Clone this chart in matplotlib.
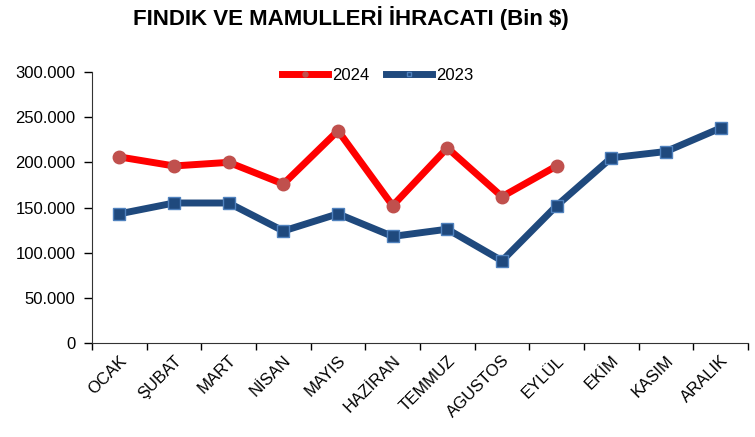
import numpy as np
import matplotlib
matplotlib.use("Agg")
import matplotlib.pyplot as plt
from matplotlib.ticker import FuncFormatter

plt.rcParams['font.family'] = ['Liberation Sans Narrow', 'Liberation Sans', 'DejaVu Sans']

aylar = ["OCAK", "ŞUBAT", "MART", "NİSAN", "MAYIS", "HAZİRAN", "TEMMUZ",
         "AGUSTOS", "EYLÜL", "EKİM", "KASIM", "ARALIK"]
ihracat_2024 = [206000, 196000, 200000, 176000, 235000, 152000, 216000, 162000, 196000]
ihracat_2023 = [143000, 155000, 155000, 124000, 143000, 118000, 126000, 91000, 152000,
                205000, 212000, 238000]

fig = plt.figure(figsize=(7.55, 4.37), dpi=100)
ax = fig.add_axes([0.1219, 0.2151, 0.8688, 0.6201])

x = np.arange(len(aylar))
ax.plot(x[:len(ihracat_2024)], ihracat_2024, color="#FF0000", lw=5, marker="o",
        ms=9, mfc="#C0504D", mec="#C0504D", label="2024", zorder=3)
ax.plot(x, ihracat_2023, color="#1F497D", lw=5, marker="s", ms=8,
        mfc="#1F497D", mec="#4F81BD", mew=1, label="2023", zorder=2)

ax.set_xlim(-0.5, len(aylar) - 0.5)
ax.set_ylim(0, 300000)
ax.set_yticks(np.arange(0, 300001, 50000))
ax.yaxis.set_major_formatter(FuncFormatter(lambda v, p: f"{int(v):,}".replace(",", ".")))
ax.tick_params(axis="y", labelsize=12, length=6, width=1, pad=6)

ax.set_xticks(x)
ax.set_xticklabels(aylar, rotation=45, ha="right", va="top", rotation_mode="anchor",
                   fontsize=12)
ax.tick_params(axis="x", which="major", length=0, pad=7)
ax.set_xticks(np.arange(-0.5, len(aylar), 1), minor=True)
ax.tick_params(axis="x", which="minor", length=5, width=1)

ax.spines["top"].set_visible(False)
ax.spines["right"].set_visible(False)
ax.spines["left"].set_color("#333333")
ax.spines["bottom"].set_color("#333333")

ax.legend(loc="upper center", bbox_to_anchor=(0.435, 1.07), ncol=2, frameon=False,
          fontsize=12, handlelength=2.8, columnspacing=1.0, handletextpad=0.2,
          markerscale=0.4)

fig.text(0.465, 0.958, "FINDIK VE MAMULLERİ İHRACATI (Bin $)", ha="center", va="center",
         fontsize=16, fontweight="bold")

fig.savefig("out.png", dpi=100)
